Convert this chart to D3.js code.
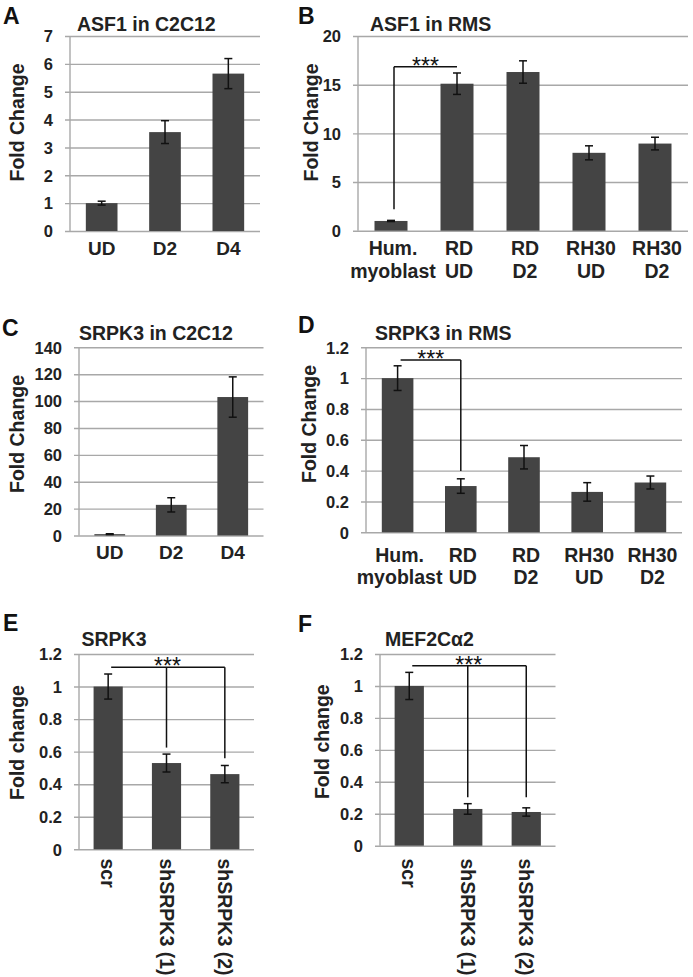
<!DOCTYPE html>
<html><head><meta charset="utf-8">
<script src="https://cdn.jsdelivr.net/npm/d3@7"></script>
<style>html,body{margin:0;padding:0;background:#fff;}svg{display:block;}</style>
</head><body>
<svg id="chart" width="693" height="977"></svg>
<script>
// ---------------- DATA ----------------
const catsA = ["UD", "D2", "D4"];
const valsA = [1.0, 3.55, 5.65];
const errA  = [0.07, 0.41, 0.54];
const ticksA = [0, 1, 2, 3, 4, 5, 6, 7];

const catsB = [["Hum.", "myoblast"], ["RD", "UD"], ["RD", "D2"], ["RH30", "UD"], ["RH30", "D2"]];
const valsB = [1.0, 15.1, 16.3, 8.0, 8.95];
const errB  = [0.06, 1.1, 1.15, 0.72, 0.65];
const ticksB = [0, 5, 10, 15, 20];

const catsC = ["UD", "D2", "D4"];
const valsC = [1.0, 22.8, 103];
const errC  = [0.3, 5.3, 15];
const ticksC = [0, 20, 40, 60, 80, 100, 120, 140];

const catsD = [["Hum.", "myoblast"], ["RD", "UD"], ["RD", "D2"], ["RH30", "UD"], ["RH30", "D2"]];
const valsD = [1.0, 0.30, 0.487, 0.262, 0.323];
const errD  = [0.08, 0.047, 0.076, 0.06, 0.042];
const ticksD = [0, 0.2, 0.4, 0.6, 0.8, 1, 1.2];

const catsE = ["scr", "shSRPK3 (1)", "shSRPK3 (2)"];
const valsE = [1.0, 0.53, 0.462];
const errE  = [0.077, 0.055, 0.053];
const ticksE = [0, 0.2, 0.4, 0.6, 0.8, 1, 1.2];

const catsF = ["scr", "shSRPK3 (1)", "shSRPK3 (2)"];
const valsF = [1.0, 0.23, 0.211];
const errF  = [0.085, 0.033, 0.026];
const ticksF = [0, 0.2, 0.4, 0.6, 0.8, 1, 1.2];

// significance brackets: from bar index, to bar indices, bracket level, drop level at each target
const sigB = {from: 0, fromDrop: 2.2, to: [1], level: 16.85, drops: [null], label: "***"};
const sigD = {from: 0, fromDrop: null, to: [1], level: 1.117, drops: [0.397], label: "***"};
const sigE = {from: 0, fromDrop: null, to: [1, 2], level: 1.118, drops: [0.625, 0.56], label: "***"};
const sigF = {from: 0, fromDrop: null, to: [1, 2], level: 1.126, drops: [0.303, 0.303], label: "***"};

// ---------------- LAYOUT ----------------
const FONT = "'Liberation Sans', Arial, Helvetica, sans-serif";
const BAR = "#444444", GRID = "#a8a8a8";
const svg = d3.select("#chart");

const panels = [
  {letter: "A", lx: 3, ly: 23.5, title: "ASF1 in C2C12", tx: 77, ty: 31,
   cats: catsA, vals: valsA, err: errA, ticks: ticksA,
   x0: 70, x1: 260, yBottom: 231, yTop: 36,
   ylab: "Fold Change", ylx: 23.5, yly: 122.5, xlabMode: "single", xlabY: [255]},
  {letter: "B", lx: 298, ly: 24, title: "ASF1 in RMS", tx: 370, ty: 30.7,
   cats: catsB, vals: valsB, err: errB, ticks: ticksB,
   x0: 358, x1: 688, yBottom: 230.7, yTop: 36,
   ylab: "Fold Change", ylx: 317.5, yly: 122.5, xlabMode: "double", xlabY: [255, 278.3], sig: sigB},
  {letter: "C", lx: 2, ly: 336, title: "SRPK3 in C2C12", tx: 79, ty: 340,
   cats: catsC, vals: valsC, err: errC, ticks: ticksC,
   x0: 79, x1: 263.5, yBottom: 535.5, yTop: 347.3,
   ylab: "Fold Change", ylx: 23.5, yly: 434, xlabMode: "single", xlabY: [559]},
  {letter: "D", lx: 298, ly: 333, title: "SRPK3 in RMS", tx: 375, ty: 340,
   cats: catsD, vals: valsD, err: errD, ticks: ticksD,
   x0: 366, x1: 682, yBottom: 532.3, yTop: 347.3,
   ylab: "Fold Change", ylx: 316, yly: 424, xlabMode: "double", xlabY: [561.7, 584], sig: sigD},
  {letter: "E", lx: 3, ly: 631, title: "SRPK3", tx: 81.5, ty: 646,
   cats: catsE, vals: valsE, err: errE, ticks: ticksE,
   x0: 79, x1: 254, yBottom: 849.3, yTop: 654,
   ylab: "Fold change", ylx: 23.5, yly: 742.5, xlabMode: "rot", xlabY: [858.5], sig: sigE},
  {letter: "F", lx: 298, ly: 632, title: "MEF2Cα2", tx: 385, ty: 646,
   cats: catsF, vals: valsF, err: errF, ticks: ticksF,
   x0: 380, x1: 555.5, yBottom: 845.7, yTop: 654,
   ylab: "Fold change", ylx: 329.3, yly: 741.7, xlabMode: "rot", xlabY: [858.5], sig: sigF}
];

panels.forEach(p => {
  const g = svg.append("g");
  const keys = p.cats.map((c, i) => i);
  const x = d3.scaleBand().domain(keys).range([p.x0, p.x1]).paddingInner(0.5).paddingOuter(0.25);
  const ymax = p.ticks[p.ticks.length - 1];
  const y = d3.scaleLinear().domain([0, ymax]).range([p.yBottom, p.yTop]);
  const cx = i => x(i) + x.bandwidth() / 2;

  // gridlines + y axis via d3.axisLeft
  const ax = d3.axisLeft(y).tickValues(p.ticks)
    .tickSize(-(p.x1 - p.x0) - 5).tickFormat(d => d3.format("~g")(d)).tickPadding(8);
  const axg = g.append("g").attr("transform", `translate(${p.x0 - 5},0)`).call(ax);
  axg.select(".domain").remove();
  axg.selectAll(".tick line").attr("stroke", GRID).attr("stroke-width", 1.4);
  axg.selectAll(".tick text").attr("font-family", FONT).attr("font-weight", "bold")
    .attr("font-size", 16.5).attr("fill", "#222").attr("dy", "0.35em").attr("x", -12);
  // vertical axis line
  g.append("line").attr("x1", p.x0).attr("x2", p.x0).attr("y1", y(ymax)).attr("y2", y(0))
    .attr("stroke", GRID).attr("stroke-width", 1.4);

  // bars
  g.selectAll("rect.bar").data(p.vals).join("rect").attr("class", "bar")
    .attr("x", (d, i) => x(i)).attr("width", x.bandwidth())
    .attr("y", d => y(d)).attr("height", d => y(0) - y(d)).attr("fill", BAR);

  // error bars
  const eb = g.selectAll("g.err").data(p.vals).join("g").attr("class", "err");
  eb.append("line").attr("x1", (d, i) => cx(i)).attr("x2", (d, i) => cx(i))
    .attr("y1", (d, i) => y(d + p.err[i])).attr("y2", (d, i) => y(d - p.err[i]))
    .attr("stroke", "#111").attr("stroke-width", 1.5);
  [1, -1].forEach(s => {
    eb.append("line").attr("x1", (d, i) => cx(i) - 4).attr("x2", (d, i) => cx(i) + 4)
      .attr("y1", (d, i) => y(d + s * p.err[i])).attr("y2", (d, i) => y(d + s * p.err[i]))
      .attr("stroke", "#111").attr("stroke-width", 1.5);
  });

  // x labels
  if (p.xlabMode === "single") {
    g.selectAll("text.xl").data(p.cats).join("text").attr("class", "xl")
      .attr("x", (d, i) => cx(i)).attr("y", p.xlabY[0]).attr("text-anchor", "middle")
      .attr("font-family", FONT).attr("font-weight", "bold").attr("font-size", 19)
      .attr("fill", "#222").text(d => d);
  } else if (p.xlabMode === "double") {
    [0, 1].forEach(k => {
      g.selectAll("text.xl" + k).data(p.cats).join("text").attr("class", "xl" + k)
        .attr("x", (d, i) => cx(i) + 2).attr("y", p.xlabY[k]).attr("text-anchor", "middle")
        .attr("font-family", FONT).attr("font-weight", "bold").attr("font-size", 19.5)
        .attr("fill", "#222").text(d => d[k]);
    });
  } else {
    g.selectAll("text.xl").data(p.cats).join("text").attr("class", "xl")
      .attr("transform", (d, i) => `translate(${cx(i)},${p.xlabY[0]}) rotate(90)`)
      .attr("dy", "0.35em").attr("text-anchor", "start")
      .attr("font-family", FONT).attr("font-weight", "bold").attr("font-size", 19.5)
      .attr("fill", "#222").text(d => d);
  }

  // y label
  g.append("text").attr("transform", `translate(${p.ylx},${p.yly}) rotate(-90)`)
    .attr("text-anchor", "middle").attr("font-family", FONT).attr("font-weight", "bold")
    .attr("font-size", 19.5).attr("fill", "#222").text(p.ylab);

  // title & letter
  g.append("text").attr("x", p.tx).attr("y", p.ty).attr("font-family", FONT)
    .attr("font-weight", "bold").attr("font-size", 19.5).attr("fill", "#222").text(p.title);
  g.append("text").attr("x", p.lx).attr("y", p.ly).attr("font-family", FONT)
    .attr("font-weight", "bold").attr("font-size", 23).attr("fill", "#111").text(p.letter);

  // significance bracket
  if (p.sig) {
    const s = p.sig;
    const xs = cx(s.from) + 3;
    const lastTo = s.to[s.to.length - 1];
    const xe = cx(lastTo);
    const yl = y(s.level);
    g.append("line").attr("x1", xs).attr("x2", xe).attr("y1", yl).attr("y2", yl)
      .attr("stroke", "#111").attr("stroke-width", 1.5);
    if (s.fromDrop !== null) {
      g.append("line").attr("x1", xs).attr("x2", xs).attr("y1", yl).attr("y2", y(s.fromDrop))
        .attr("stroke", "#111").attr("stroke-width", 1.5);
    }
    s.to.forEach((t, k) => {
      if (s.drops[k] !== null) {
        g.append("line").attr("x1", cx(t)).attr("x2", cx(t)).attr("y1", yl).attr("y2", y(s.drops[k]))
          .attr("stroke", "#111").attr("stroke-width", 1.5);
      }
    });
    const mid = s.to.length > 1 ? cx(s.to[0]) + 1 : (xs + xe) / 2;
    g.append("text").attr("x", mid).attr("y", yl + 7).attr("text-anchor", "middle")
      .attr("font-family", FONT).attr("font-size", 23).attr("fill", "#111").text(s.label);
  }
});
</script>
</body></html>
